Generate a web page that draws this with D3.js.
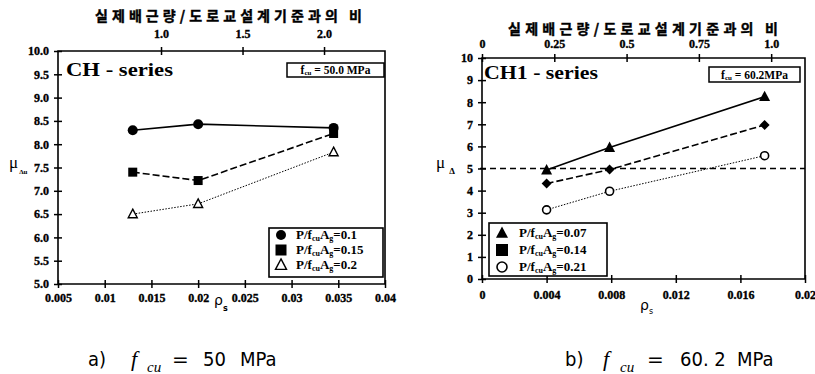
<!DOCTYPE html>
<html><head><meta charset="utf-8">
<script src="https://cdn.jsdelivr.net/npm/d3@7/dist/d3.min.js"></script>
<style>body{margin:0;background:#fff}svg{display:block}</style>
</head><body>
<svg id="c" width="815" height="374"></svg>
<script>
// ---------- data ----------
const topTitle = "실제배근량/도로교설계기준과의 비";
// chart a)
const aRho = [0.013, 0.02, 0.0345];
const aP010 = [8.30, 8.43, 8.35];
const aP015 = [7.40, 7.22, 8.23];
const aP020 = [6.50, 6.72, 7.83];
const aYTicks = [5.0,5.5,6.0,6.5,7.0,7.5,8.0,8.5,9.0,9.5,10.0];
const aXTicks = [0.005,0.01,0.015,0.02,0.025,0.03,0.035,0.04];
const aTopTicks = [1.0,1.5,2.0];
const aLegend = ["=0.1","=0.15","=0.2"];
// chart b)
const bRho = [0.004, 0.0079, 0.0175];
const bP007 = [4.93, 5.95, 8.25];
const bP014 = [4.32, 4.95, 6.97];
const bP021 = [3.13, 3.97, 5.58];
const bYTicks = [0,1,2,3,4,5,6,7,8,9,10];
const bXTicks = [0,0.004,0.008,0.012,0.016,0.02];
const bTopTicks = [0,0.25,0.5,0.75,1.0];
const bLegend = ["=0.07","=0.14","=0.21"];
const bLimit = 5;

const svg = d3.select("#c");
svg.append("rect").attr("width",815).attr("height",374).attr("fill","#fff");
const LF = "'Liberation Serif', 'Times New Roman', serif";

function crossTicks(g, dir){
  g.selectAll(".domain").remove();
  g.selectAll(".tick line").each(function(){
    const l=d3.select(this);
    if(dir==="v") l.attr("y1",-4).attr("y2",4).attr("x2",0);
    else l.attr("x1",-4).attr("x2",4).attr("y2",0);
  }).attr("stroke","#000").attr("stroke-width",1.5);
  g.attr("font-family",LF).attr("font-size",12).attr("font-weight","bold");
  g.selectAll(".tick text").attr("fill","#000").attr("stroke","#000").attr("stroke-width",0.35)
    .style("font-family",LF).style("font-weight","bold").style("font-size","12px");
}

function frame(x0,x1,y0,y1){
  svg.append("path").attr("d",`M${x0},${y0}H${x1}V${y1}H${x0}Z`)
    .attr("fill","none").attr("stroke","#000").attr("stroke-width",1.6);
}

function marker(g, type, cx, cy, s){
  if(type==="circle") g.append("circle").attr("cx",cx).attr("cy",cy).attr("r",s/2).attr("fill","#000");
  else if(type==="ocircle") g.append("circle").attr("cx",cx).attr("cy",cy).attr("r",s/2).attr("fill","#fff").attr("stroke","#000").attr("stroke-width",1.6);
  else if(type==="square") g.append("rect").attr("x",cx-s/2).attr("y",cy-s/2).attr("width",s).attr("height",s).attr("fill","#000");
  else if(type==="diamond") g.append("path").attr("d",`M${cx},${cy-s/2}L${cx+s/2},${cy}L${cx},${cy+s/2}L${cx-s/2},${cy}Z`).attr("fill","#000");
  else if(type==="triangle") g.append("path").attr("d",`M${cx},${cy-s*0.55}L${cx+s/2},${cy+s*0.4}L${cx-s/2},${cy+s*0.4}Z`).attr("fill","#000");
  else if(type==="otriangle") g.append("path").attr("d",`M${cx},${cy-s*0.55}L${cx+s/2},${cy+s*0.4}L${cx-s/2},${cy+s*0.4}Z`).attr("fill","#fff").attr("stroke","#000").attr("stroke-width",1.4);
}

function legendText(g, x, y, suffix){
  const t = g.append("text").attr("x",x).attr("y",y+4).attr("font-family",LF).attr("font-weight","bold").attr("font-size",13).attr("fill","#000");
  t.append("tspan").text("P/f");
  t.append("tspan").attr("font-size",8).attr("dy",2).text("cu");
  t.append("tspan").attr("dy",-2).text("A");
  t.append("tspan").attr("font-size",8).attr("dy",2).text("g");
  t.append("tspan").attr("dy",-2).text(suffix);
}

function series(g, xs, ys, xS, yS, dash, width, mtype, msize){
  const line = d3.line().x((d,i)=>xS(xs[i])).y(d=>yS(d));
  g.append("path").attr("d",line(ys)).attr("fill","none").attr("stroke","#000")
    .attr("stroke-width",width).attr("stroke-dasharray",dash);
  ys.forEach((v,i)=>marker(g,mtype,xS(xs[i]),yS(v),msize));
}

function fcuBox(x0,y0,w,h,val){
  svg.append("rect").attr("x",x0).attr("y",y0).attr("width",w).attr("height",h).attr("fill","#fff").attr("stroke","#000").attr("stroke-width",1.5);
  const t = svg.append("text").attr("x",x0+w/2).attr("y",y0+h/2+4).attr("text-anchor","middle")
    .attr("font-family",LF).attr("font-weight","bold").attr("font-size",11.5).attr("fill","#000");
  t.append("tspan").text("f");
  t.append("tspan").attr("font-size",7).attr("dy",1).text("cu");
  t.append("tspan").attr("dy",-1).text(val);
}

// ================= chart a =================
{
  const x = d3.scaleLinear([0.005,0.04],[58,385]);
  const y = d3.scaleLinear([5,10],[284,51]);
  const top = d3.scaleLinear([0.368,2.374],[58,385]);
  frame(58,385,51,284);
  const gy = svg.append("g").attr("transform","translate(58,0)")
    .call(d3.axisLeft(y).tickValues(aYTicks).tickFormat(d3.format(".1f")).tickPadding(3));
  crossTicks(gy,"h");
  const gx = svg.append("g").attr("transform","translate(0,284)")
    .call(d3.axisBottom(x).tickValues(aXTicks).tickFormat(d=>String(+d.toFixed(3))).tickPadding(3));
  crossTicks(gx,"v");
  const gt = svg.append("g").attr("transform","translate(0,51)")
    .call(d3.axisTop(top).tickValues(aTopTicks).tickFormat(d3.format(".1f")).tickPadding(7));
  crossTicks(gt,"v");
  svg.append("text").attr("x",95).attr("y",21).attr("textLength",267).attr("lengthAdjust","spacing")
    .attr("font-family","'Noto Sans CJK KR', sans-serif").attr("font-weight","bold").attr("font-size",14)
    .attr("stroke","#000").attr("stroke-width",0.4).text(topTitle);
  svg.append("text").attr("x",66).attr("y",76).attr("textLength",107).attr("lengthAdjust","spacingAndGlyphs")
    .attr("font-family",LF).attr("font-weight","bold").attr("font-size",19).text("CH - series");
  fcuBox(287,63,97,14," = 50.0 MPa");
  const g = svg.append("g");
  series(g,aRho,aP010,x,y,null,1.6,"circle",10);
  series(g,aRho,aP015,x,y,"7,3",1.6,"square",9);
  series(g,aRho,aP020,x,y,"1.5,1.5",1,"otriangle",9);
  // legend
  svg.append("rect").attr("x",269).attr("y",228).attr("width",114).attr("height",49).attr("fill","#fff").attr("stroke","#000").attr("stroke-width",1.6);
  const types=["circle","square","otriangle"], ly=[235,250,265];
  types.forEach((t,i)=>{ marker(svg,t,281,ly[i],t==="circle"?10:11); legendText(svg,296,ly[i],aLegend[i]); });
  // axis labels
  const mu = svg.append("text").attr("x",9).attr("y",168).attr("font-family",LF).attr("font-size",17).attr("fill","#000");
  mu.append("tspan").text("μ");
  mu.append("tspan").attr("font-size",7).attr("dy",6).attr("dx",1).attr("font-weight","bold").text("Δu");
  const rho = svg.append("text").attr("x",214).attr("y",305).attr("font-family","'DejaVu Sans', sans-serif").attr("font-size",14).attr("fill","#000");
  rho.append("tspan").text("ρ");
  rho.append("tspan").attr("font-size",8).attr("dy",6).attr("font-weight","bold").text("s");
}

// ================= chart b =================
{
  const x = d3.scaleLinear([0,0.02],[482,805]);
  const y = d3.scaleLinear([0,10],[279,58]);
  const top = d3.scaleLinear([0,1.117],[482,805]);
  frame(482,805,58,279);
  const gy = svg.append("g").attr("transform","translate(482,0)")
    .call(d3.axisLeft(y).tickValues(bYTicks).tickFormat(d3.format("d")).tickPadding(3));
  crossTicks(gy,"h");
  const gx = svg.append("g").attr("transform","translate(0,279)")
    .call(d3.axisBottom(x).tickValues(bXTicks).tickFormat(d=>String(+d.toFixed(3))).tickPadding(5));
  crossTicks(gx,"v");
  const gt = svg.append("g").attr("transform","translate(0,58)")
    .call(d3.axisTop(top).tickValues(bTopTicks).tickFormat(d=>d===1?"1.0":String(d)).tickPadding(4));
  crossTicks(gt,"v");
  svg.append("text").attr("x",508).attr("y",34).attr("textLength",270).attr("lengthAdjust","spacing")
    .attr("font-family","'Noto Sans CJK KR', sans-serif").attr("font-weight","bold").attr("font-size",14)
    .attr("stroke","#000").attr("stroke-width",0.4).text(topTitle);
  svg.append("text").attr("x",484).attr("y",79).attr("textLength",114).attr("lengthAdjust","spacingAndGlyphs")
    .attr("font-family",LF).attr("font-weight","bold").attr("font-size",19).text("CH1 - series");
  fcuBox(709,67,91,15," = 60.2MPa");
  // limit line
  svg.append("line").attr("x1",480).attr("x2",805).attr("y1",y(bLimit)).attr("y2",y(bLimit))
    .attr("stroke","#000").attr("stroke-width",1.5).attr("stroke-dasharray","6,4");
  const g = svg.append("g");
  series(g,bRho,bP007,x,y,null,1.6,"triangle",11);
  series(g,bRho,bP014,x,y,"7,3",1.6,"diamond",10);
  series(g,bRho,bP021,x,y,"1.5,1.5",1,"ocircle",8);
  // legend
  svg.append("rect").attr("x",489).attr("y",223).attr("width",118).attr("height",53).attr("fill","#fff").attr("stroke","#000").attr("stroke-width",1.6);
  const types=["triangle","square","ocircle"], ly=[233,250,267];
  types.forEach((t,i)=>{ marker(svg,t,502,ly[i],t==="ocircle"?10:12); legendText(svg,519,ly[i],bLegend[i]); });
  const mu = svg.append("text").attr("x",436).attr("y",168).attr("font-family",LF).attr("font-size",17).attr("fill","#000");
  mu.append("tspan").text("μ");
  mu.append("tspan").attr("font-size",9).attr("dy",6).attr("dx",4).attr("font-weight","bold").text("Δ");
  const rho = svg.append("text").attr("x",640).attr("y",310).attr("font-family","'DejaVu Sans', sans-serif").attr("font-size",14).attr("fill","#000");
  rho.append("tspan").text("ρ");
  rho.append("tspan").attr("font-size",8).attr("dy",4).text("s");
}

// ================= captions =================
function caption(parts){
  parts.forEach(p=>{
    svg.append("text").attr("x",p[0]).attr("y",p[1]).attr("font-family",p[3]||"'DejaVu Sans Condensed','DejaVu Sans',sans-serif")
      .attr("font-size",p[4]||20).attr("font-style",p[5]||"normal").attr("fill","#000").text(p[2]);
  });
}
const SF = "'Liberation Serif', serif";
caption([[88,366,"a)"],[131,366,"f",SF,22,"italic"],[147,372,"cu",SF,15,"italic"],[172,366,"=","'DejaVu Sans',sans-serif",20],[203,366,"50"],[240,366,"MPa"]]);
caption([[565,366,"b)"],[603,366,"f",SF,22,"italic"],[620,372,"cu",SF,15,"italic"],[647,366,"=","'DejaVu Sans',sans-serif",20],[680,366,"60. 2"],[737,366,"MPa"]]);
</script>
</body></html>
